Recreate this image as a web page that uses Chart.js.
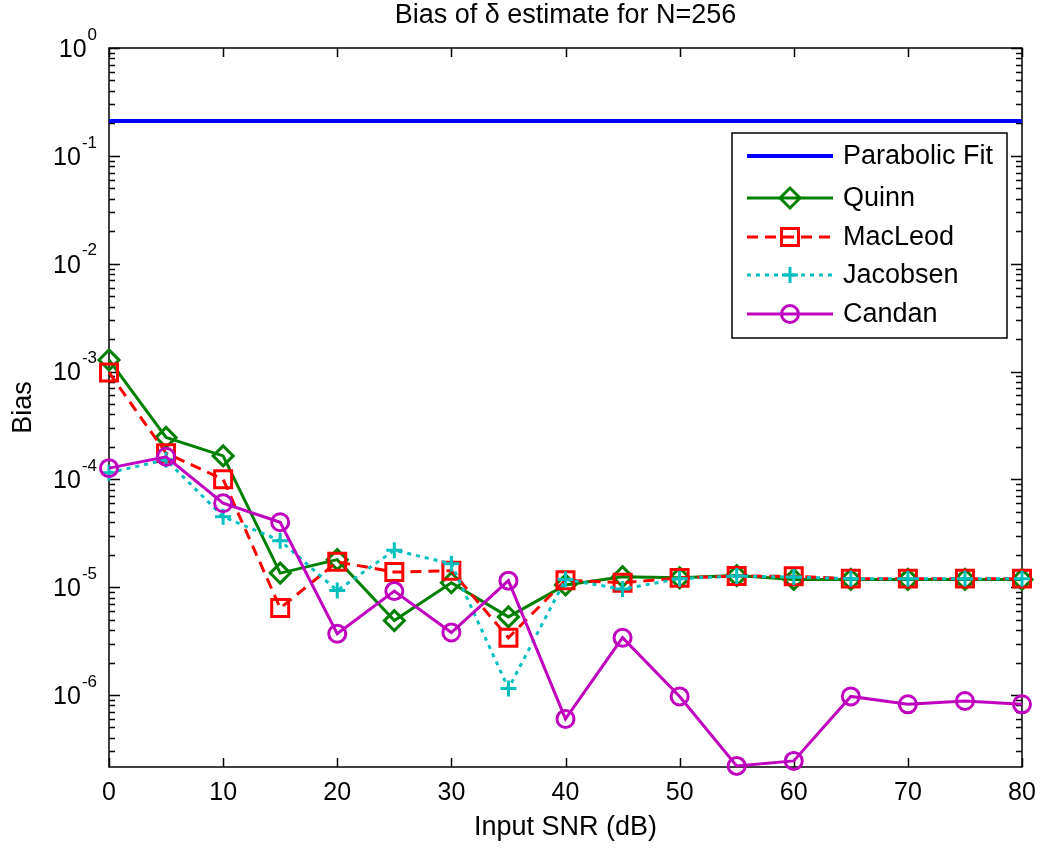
<!DOCTYPE html>
<html>
<head>
<meta charset="utf-8">
<script src="https://cdn.jsdelivr.net/npm/chart.js@4/dist/chart.umd.min.js"></script>
<style>
  html, body { margin: 0; padding: 0; background: #fff; }
  #wrap { width: 1050px; height: 850px; position: relative; }
</style>
</head>
<body>
<div id="wrap"><canvas id="biasChart"></canvas></div>
<script>
// input SNR in dB
const snr = [0, 5, 10, 15, 20, 25, 30, 35, 40, 45, 50, 55, 60, 65, 70, 75, 80];

const parabolicFit = [0.21, 0.21, 0.21, 0.21, 0.21, 0.21, 0.21, 0.21, 0.21, 0.21, 0.21, 0.21, 0.21, 0.21, 0.21, 0.21, 0.21];
const quinn = [1.28e-3, 2.45e-4, 1.65e-4, 1.35e-5, 1.8e-5, 4.9e-6, 1.1e-5, 5.3e-6, 1.05e-5, 1.25e-5, 1.22e-5, 1.28e-5, 1.18e-5, 1.18e-5, 1.18e-5, 1.18e-5, 1.18e-5];
const macleod = [9.8e-4, 1.75e-4, 1.0e-4, 6.4e-6, 1.72e-5, 1.38e-5, 1.42e-5, 3.4e-6, 1.16e-5, 1.1e-5, 1.22e-5, 1.27e-5, 1.26e-5, 1.2e-5, 1.2e-5, 1.2e-5, 1.2e-5];
const jacobsen = [1.15e-4, 1.52e-4, 4.5e-5, 2.7e-5, 9.3e-6, 2.2e-5, 1.65e-5, 1.15e-6, 1.18e-5, 9.6e-6, 1.2e-5, 1.27e-5, 1.24e-5, 1.2e-5, 1.2e-5, 1.2e-5, 1.2e-5];
const candan = [1.27e-4, 1.62e-4, 6.0e-5, 4.0e-5, 3.7e-6, 9.2e-6, 3.8e-6, 1.15e-5, 6.0e-7, 3.4e-6, 9.7e-7, 2.2e-7, 2.45e-7, 9.7e-7, 8.2e-7, 8.8e-7, 8.2e-7];

const xTicks = [0, 10, 20, 30, 40, 50, 60, 70, 80];
const yExponents = [0, -1, -2, -3, -4, -5, -6];
const yMin = 2.15e-7;
const yMax = 1;

const FONT = '"Liberation Sans", Arial, Helvetica, sans-serif';

function points(ys) {
    return snr.map((x, i) => ({ x: x, y: ys[i] }));
}

function series(label, ys, color, shape, radius, dash, order, width) {
    return {
        label: label,
        data: points(ys),
        borderColor: color,
        backgroundColor: color,
        borderWidth: width || 3,
        borderDash: dash,
        pointStyle: shape,
        pointRadius: radius,
        pointBorderWidth: 3,
        pointBorderColor: color,
        pointBackgroundColor: 'rgba(0,0,0,0)',
        tension: 0,
        clip: false,
        order: order
    };
}

// axes box, ticks and labels drawn in the matlab style
const axesPlugin = {
    id: 'axesPlugin',
    beforeDatasetsDraw(chart) {
        const ctx = chart.ctx;
        const a = chart.chartArea;
        const xs = chart.scales.x;
        const ys = chart.scales.y;

        ctx.save();
        ctx.strokeStyle = '#000';
        ctx.lineWidth = 1.5;
        ctx.strokeRect(a.left, a.top, a.right - a.left, a.bottom - a.top);

        // x ticks, bottom and top
        ctx.beginPath();
        xTicks.forEach(v => {
            const px = Math.round(xs.getPixelForValue(v)) + 0.5;
            ctx.moveTo(px, a.bottom); ctx.lineTo(px, a.bottom - 9);
            ctx.moveTo(px, a.top); ctx.lineTo(px, a.top + 9);
        });
        ctx.stroke();

        // y ticks, decades plus minor ones
        ctx.beginPath();
        yExponents.forEach(e => {
            for (let m = 2; m <= 9; m++) {
                const v = m * Math.pow(10, e - 1);
                if (v < yMin || v > yMax) continue;
                const py = Math.round(ys.getPixelForValue(v)) + 0.5;
                ctx.moveTo(a.left, py); ctx.lineTo(a.left + 6, py);
                ctx.moveTo(a.right, py); ctx.lineTo(a.right - 6, py);
            }
            const py = Math.round(ys.getPixelForValue(Math.pow(10, e))) + 0.5;
            ctx.moveTo(a.left, py); ctx.lineTo(a.left + 11, py);
            ctx.moveTo(a.right, py); ctx.lineTo(a.right - 11, py);
        });
        ctx.stroke();

        ctx.fillStyle = '#000';
        // x tick labels
        ctx.font = '25px ' + FONT;
        ctx.textAlign = 'center';
        ctx.textBaseline = 'middle';
        xTicks.forEach(v => {
            ctx.fillText(String(v), xs.getPixelForValue(v), a.bottom + 26);
        });

        // y tick labels as 10 with a raised exponent
        yExponents.forEach(e => {
            const py = ys.getPixelForValue(Math.pow(10, e));
            const expText = String(e);
            ctx.font = '17px ' + FONT;
            const expW = ctx.measureText(expText).width;
            ctx.textAlign = 'left';
            ctx.textBaseline = 'middle';
            const expX = a.left - 12 - expW;
            ctx.fillText(expText, expX, py - 13);
            ctx.font = '25px ' + FONT;
            ctx.textAlign = 'right';
            ctx.fillText('10', expX - 1, py + 2);
        });

        // titles
        ctx.font = '27px ' + FONT;
        ctx.textAlign = 'center';
        ctx.textBaseline = 'middle';
        const cx = (a.left + a.right) / 2;
        ctx.fillText('Bias of \u03b4 estimate for N=256', cx, 16);
        ctx.fillText('Input SNR (dB)', cx, 828);

        ctx.translate(24, (a.top + a.bottom) / 2);
        ctx.rotate(-Math.PI / 2);
        ctx.fillText('Bias', 0, 0);
        ctx.restore();
    },
    afterDraw(chart) {
        // legend box in the upper right
        const ctx = chart.ctx;
        const box = { x: 732, y: 133, w: 275, h: 205 };
        const rows = [156, 198, 237, 275, 314];

        ctx.save();
        ctx.fillStyle = '#fff';
        ctx.fillRect(box.x, box.y, box.w, box.h);
        ctx.strokeStyle = '#000';
        ctx.lineWidth = 1.5;
        ctx.strokeRect(box.x, box.y, box.w, box.h);

        chart.data.datasets.forEach((ds, r) => {
            const y = rows[r];
            ctx.strokeStyle = ds.borderColor;
            ctx.lineWidth = ds.borderWidth;
            ctx.setLineDash(ds.borderDash || []);
            ctx.beginPath();
            ctx.moveTo(747, y);
            ctx.lineTo(833, y);
            ctx.stroke();
            ctx.setLineDash([]);
            if (ds.pointRadius > 0) {
                ctx.strokeStyle = ds.borderColor;
                ctx.fillStyle = 'rgba(0,0,0,0)';
                ctx.lineWidth = ds.pointBorderWidth;
                Chart.helpers.drawPoint(ctx, {
                    pointStyle: ds.pointStyle,
                    radius: ds.pointRadius,
                    rotation: 0,
                    borderWidth: ds.pointBorderWidth
                }, 790, y);
            }
            ctx.fillStyle = '#000';
            ctx.font = '27px ' + FONT;
            ctx.textAlign = 'left';
            ctx.textBaseline = 'middle';
            ctx.fillText(ds.label, 843, y + 1);
        });
        ctx.restore();
    }
};

const chart = new Chart(document.getElementById('biasChart'), {
    type: 'line',
    data: {
        datasets: [
            series('Parabolic Fit', parabolicFit, '#0000ff', 'circle', 0, [], 4, 4),
            series('Quinn', quinn, '#008000', 'rectRot', 10, [], 3),
            series('MacLeod', macleod, '#ff0000', 'rect', 12, [11, 7], 2),
            series('Jacobsen', jacobsen, '#00bfbf', 'cross', 8, [4, 5], 1),
            series('Candan', candan, '#bf00bf', 'circle', 8.5, [], 0)
        ]
    },
    options: {
        responsive: true,
        maintainAspectRatio: false,
        animation: false,
        layout: { padding: { left: 109, top: 48, right: 28, bottom: 83 } },
        plugins: {
            legend: { display: false },
            tooltip: { enabled: false },
            title: { display: false }
        },
        scales: {
            x: {
                type: 'linear',
                min: 0,
                max: 80,
                display: false
            },
            y: {
                type: 'logarithmic',
                min: yMin,
                max: yMax,
                display: false
            }
        }
    },
    plugins: [axesPlugin]
});
</script>
</body>
</html>
